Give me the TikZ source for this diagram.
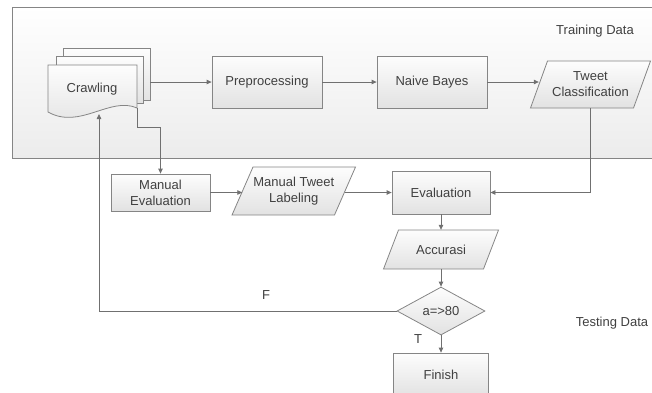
\documentclass[tikz,border=0pt]{standalone}
\usepackage{fontspec}
\setmainfont{Liberation Sans}
\usetikzlibrary{shapes.geometric,arrows.meta}
\definecolor{txt}{HTML}{404040}
\definecolor{ln}{HTML}{707070}
\definecolor{bd}{HTML}{858585}
\definecolor{shtop}{HTML}{FDFDFD}
\definecolor{shbot}{HTML}{E2E2E2}
\definecolor{regtop}{HTML}{FFFFFF}
\definecolor{regbot}{HTML}{ECECEC}
% #1 name, #2 x, #3 y, #4 mid width, #5 height, #6 half slant offset, #7 text
\newcommand{\myparallelogram}[7]{%
  \path[box] ({#2-#4/2+#6},{#3-#5/2}) -- ({#2+#4/2+#6},{#3-#5/2}) --
    ({#2+#4/2-#6},{#3+#5/2}) -- ({#2-#4/2-#6},{#3+#5/2}) -- cycle;
  \node[ptext, minimum width=#4pt, minimum height=#5pt] (#1) at (#2,#3) {#7};%
}
\begin{document}
\begin{tikzpicture}[x=1pt,y=-1pt,
  font=\fontsize{13}{16}\selectfont,
  box/.style={draw=bd, line width=0.8pt, top color=shtop, bottom color=shbot, text=txt, inner sep=0pt, align=center},
  rbox/.style={box, rectangle},
  ptext/.style={rectangle, text=txt, inner sep=0pt, align=center},
  dec/.style={box, diamond, aspect=1.83},
  page/.style={draw=bd, line width=0.8pt, top color=shtop, bottom color=shbot},
  conn/.style={draw=ln, line width=0.8pt, -{Triangle[length=5pt,width=4.5pt]}},
  lbl/.style={text=txt, inner sep=0pt}
]
\clip (0,0) rectangle (652,392);
% training region
\path[draw=bd, line width=0.8pt, top color=regtop, bottom color=regbot] (12,7) rectangle (662,158);
\node[lbl] (trd) at (595,31) {Training Data};
\node[lbl] (ted) at (612,323) {Testing Data};
% multi-document
\path[page] (63,48) rectangle (150,100);
\path[page] (56,56) rectangle (143,103);
\path[page] (48,65) -- (137,65) -- (137,108) .. controls (110,96) and (80,130) .. (48,112) -- cycle;
\node[lbl] (crawl) at (92,89) {Crawling};
\coordinate (docE) at (150,82);
\coordinate (docC) at (137,108);
\coordinate (k1) at (137,127);
\coordinate (docB) at (99,114);
% nodes
\node[rbox, minimum width=110pt, minimum height=52pt] (prep) at (267,82) {Preprocessing};
\node[rbox, minimum width=110pt, minimum height=52pt] (nb) at (432,82) {Naive Bayes};
\myparallelogram{tc}{590.5}{84.5}{103}{47}{8.5}{Tweet\\Classification}
\node[rbox, minimum width=99pt, minimum height=37pt] (manev) at (160.5,192.5) {Manual\\Evaluation};
\myparallelogram{mtl}{293.75}{191}{102.5}{48}{10.5}{Manual Tweet\\Labeling}
\node[rbox, minimum width=98pt, minimum height=43pt] (ev) at (441,192.5) {Evaluation};
\myparallelogram{acc}{441}{249.5}{100}{39}{7.5}{Accurasi}
\node[dec, minimum width=88pt, minimum height=48pt] (dc) at (441,311) {a=>80};
\node[rbox, minimum width=95pt, minimum height=43pt] (fin) at (441,374.5) {Finish};
\node[lbl] (lf) at (266,295) {F};
\node[lbl] (lt) at (418,339) {T};
% connectors
\draw[conn] (docE) -- (prep.west);
\draw[conn] (prep) -- (nb);
\draw[conn] (nb.east) -- (nb.east -| tc.west);
\draw[conn] (tc.south) |- (ev.east);
\draw[conn] (docC) -- (k1) -| (manev.north);
\draw[conn] (manev.east) -- (manev.east -| mtl.west);
\draw[conn] (ev.west -| mtl.east) -- (ev.west);
\draw[conn] (ev) -- (acc);
\draw[conn] (acc) -- (dc);
\draw[conn] (dc.west) -| (docB);
\draw[conn] (dc) -- (fin);
\end{tikzpicture}
\end{document}
